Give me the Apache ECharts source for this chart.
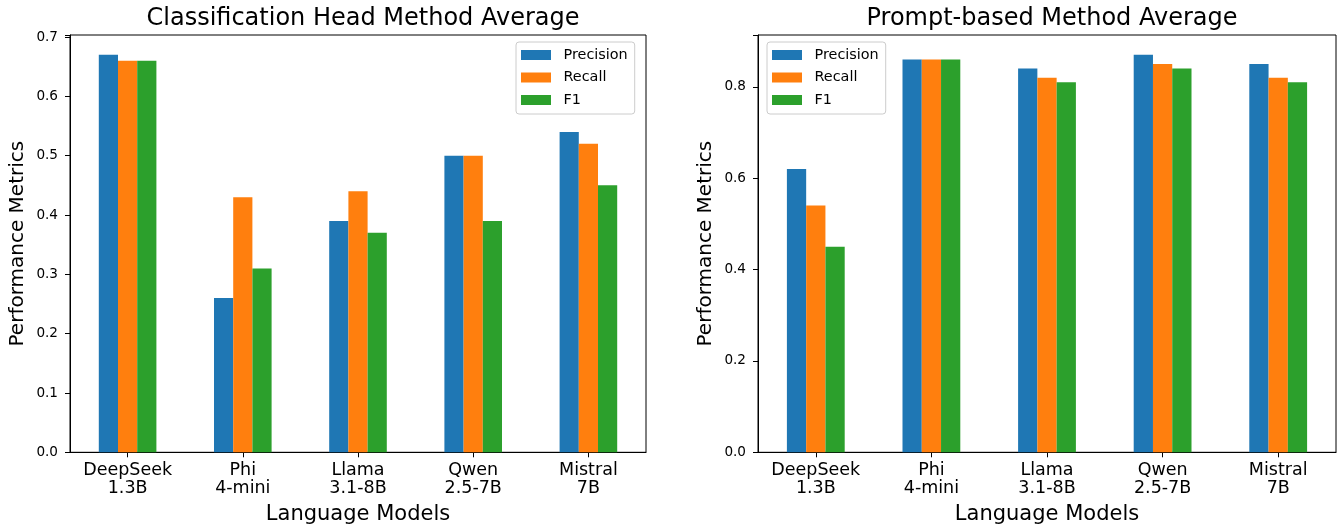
<!DOCTYPE html>
<html>
<head>
<meta charset="utf-8">
<script src="https://cdn.jsdelivr.net/npm/echarts@6/dist/echarts.min.js"></script>
<style>
html,body{margin:0;padding:0;background:#fff;}
#c{width:1341px;height:525px;}
</style>
</head>
<body>
<div id="c"></div>
<script>
const categories = ['DeepSeek\n1.3B', 'Phi\n4-mini', 'Llama\n3.1-8B', 'Qwen\n2.5-7B', 'Mistral\n7B'];
const seriesNames = ['Precision', 'Recall', 'F1'];
const colors = ['#1f77b4', '#ff7f0e', '#2ca02c'];

const clsPrecision = [0.67, 0.26, 0.39, 0.50, 0.54];
const clsRecall    = [0.66, 0.43, 0.44, 0.50, 0.52];
const clsF1        = [0.66, 0.31, 0.37, 0.39, 0.45];

const prmPrecision = [0.62, 0.86, 0.84, 0.87, 0.85];
const prmRecall    = [0.54, 0.86, 0.82, 0.85, 0.82];
const prmF1        = [0.45, 0.86, 0.81, 0.84, 0.81];

const leftTitle = 'Classification Head Method Average';
const rightTitle = 'Prompt-based Method Average';
const xName = 'Language Models';
const yName = 'Performance Metrics';

const FONT = 'DejaVu Sans';
const TXT = '#000';

function tickFmt(interval, digits) {
  return function (v) {
    const k = v / interval;
    if (Math.abs(k - Math.round(k)) > 1e-6) return '';
    return v.toFixed(digits);
  };
}

function xAxis(gi) {
  return {
    type: 'category', gridIndex: gi, data: categories,
    name: xName, nameLocation: 'middle', nameGap: 52,
    nameTextStyle: {fontFamily: FONT, fontSize: 21, color: TXT},
    axisLine: {show: true, lineStyle: {color: '#000', width: 1}},
    axisTick: {show: true, alignWithLabel: true, interval: 0, length: 5, lineStyle: {color: '#000'}},
    axisLabel: {fontFamily: FONT, fontSize: 17.5, color: TXT, margin: 9, lineHeight: 18.3,
                interval: 0, hideOverlap: false},
    splitLine: {show: false}
  };
}
function yAxis(gi, max, interval) {
  return {
    type: 'value', gridIndex: gi, min: 0, max: max, interval: interval,
    name: yName, nameLocation: 'middle', nameGap: 42,
    nameTextStyle: {fontFamily: FONT, fontSize: 20, color: TXT},
    axisLine: {show: true, lineStyle: {color: '#000', width: 1}},
    axisTick: {show: true, length: 5, lineStyle: {color: '#000'}},
    axisLabel: {fontFamily: FONT, fontSize: 13.6, color: TXT, margin: 12, formatter: tickFmt(interval, 1)},
    splitLine: {show: false}
  };
}
function bar(name, data, gi, ci) {
  return {
    type: 'bar', name: name, data: data, xAxisIndex: gi, yAxisIndex: gi,
    barCategoryGap: '50%', barGap: '0%',
    itemStyle: {color: colors[ci]}, animation: false
  };
}
function legend(left) {
  return {
    left: left, top: 42, orient: 'vertical',
    data: seriesNames, icon: 'rect', itemWidth: 30, itemHeight: 10, itemGap: 8.5,
    padding: [6, 7, 7, 5],
    backgroundColor: '#fff', borderColor: '#cccccc', borderWidth: 1, borderRadius: 3,
    textStyle: {fontFamily: FONT, fontSize: 14.4, color: '#000', lineHeight: 14, padding: [0, 0, 0, 7.5]},
    selectedMode: false
  };
}

const chart = echarts.init(document.getElementById('c'), null, {renderer: 'canvas'});
chart.setOption({
  animation: false,
  backgroundColor: '#fff',
  title: [
    {text: leftTitle, left: 358, top: 2, textAlign: 'center',
     textStyle: {fontFamily: FONT, fontSize: 24, fontWeight: 'normal', color: TXT}},
    {text: rightTitle, left: 1047, top: 2, textAlign: 'center',
     textStyle: {fontFamily: FONT, fontSize: 24, fontWeight: 'normal', color: TXT}}
  ],
  grid: [
    {left: 70, top: 35, width: 576, height: 417.3, outerBoundsMode: 'none', containLabel: false,
     show: true, borderColor: '#000', borderWidth: 1, backgroundColor: 'transparent'},
    {left: 758, top: 35, width: 578, height: 417.3, outerBoundsMode: 'none', containLabel: false,
     show: true, borderColor: '#000', borderWidth: 1, backgroundColor: 'transparent'}
  ],
  legend: [legend(516), legend(767)],
  xAxis: [xAxis(0), xAxis(1)],
  yAxis: [yAxis(0, 0.7035, 0.1), yAxis(1, 0.9135, 0.2)],
  series: [
    bar(seriesNames[0], clsPrecision, 0, 0),
    bar(seriesNames[1], clsRecall, 0, 1),
    bar(seriesNames[2], clsF1, 0, 2),
    bar(seriesNames[0], prmPrecision, 1, 0),
    bar(seriesNames[1], prmRecall, 1, 1),
    bar(seriesNames[2], prmF1, 1, 2)
  ]
});
</script>
</body>
</html>
